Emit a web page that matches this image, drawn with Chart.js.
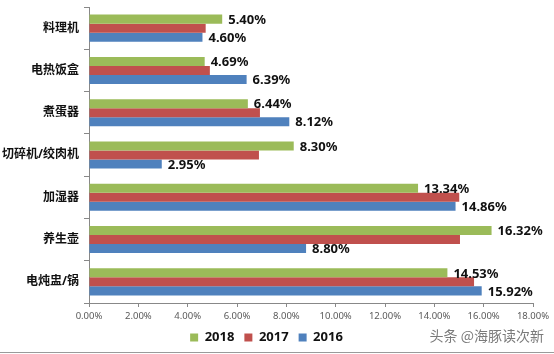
<!DOCTYPE html>
<html>
<head>
<meta charset="utf-8">
<script src="https://cdn.jsdelivr.net/npm/chart.js@4"></script>
<style>
  html, body { margin: 0; padding: 0; background: #fff; }
  #wrap { width: 554px; height: 354px; }
</style>
</head>
<body>
<div id="wrap"><canvas id="myChart" width="554" height="354"></canvas></div>
<script>
'use strict';

// categories and series (percent)
const categories = ['料理机', '电热饭盒', '煮蛋器', '切碎机/绞肉机', '加湿器', '养生壶', '电炖盅/锅'];
const years = ['2018', '2017', '2016'];
const values2018 = [5.40, 4.69, 6.44, 8.30, 13.34, 16.32, 14.53];
const values2017 = [4.73, 4.90, 6.93, 6.89, 15.01, 15.04, 15.61];
const values2016 = [4.60, 6.39, 8.12, 2.95, 14.86, 8.80, 15.92];
const xMax = 18;
const xStep = 2;
const labelledSeries = [0, 2]; // only 2018 and 2016 carry value labels

const colors = ['#9BBB59', '#C0504D', '#4F81BD'];
const fontStack = '"Noto Sans", "Noto Sans CJK SC", sans-serif';

// value labels at bar ends
const valueLabels = {
  id: 'valueLabels',
  afterDatasetsDraw(chart) {
    const c = chart.ctx;
    c.save();
    c.font = 'bold 13px ' + fontStack;
    c.fillStyle = '#111';
    c.textAlign = 'left';
    c.textBaseline = 'middle';
    labelledSeries.forEach(i => {
      const meta = chart.getDatasetMeta(i);
      meta.data.forEach((bar, j) => {
        const v = chart.data.datasets[i].data[j];
        c.fillText(v.toFixed(2) + '%', bar.x + 6, bar.y + 1);
      });
    });
    c.restore();
  }
};

// watermark + bottom frame line
const extras = {
  id: 'extras',
  afterDraw(chart) {
    const c = chart.ctx;
    c.save();
    c.font = '14px "Noto Sans CJK SC", sans-serif';
    c.fillStyle = '#7a7a7a';
    c.textAlign = 'right';
    c.textBaseline = 'middle';
    c.fillText('头条 @海豚读次新', 544, 336);
    c.strokeStyle = '#9a9a9a';
    c.lineWidth = 1;
    c.beginPath();
    c.moveTo(0, 352.5);
    c.lineTo(554, 352.5);
    c.stroke();
    c.restore();
  }
};

const ctx = document.getElementById('myChart').getContext('2d');

new Chart(ctx, {
  type: 'bar',
  data: {
    labels: categories,
    datasets: [
      { label: years[0], data: values2018, backgroundColor: colors[0] },
      { label: years[1], data: values2017, backgroundColor: colors[1] },
      { label: years[2], data: values2016, backgroundColor: colors[2] }
    ]
  },
  options: {
    indexAxis: 'y',
    responsive: false,
    animation: false,
    categoryPercentage: 0.64,
    barPercentage: 1,
    layout: { padding: { left: 0, right: 21, top: 7, bottom: 0 } },
    scales: {
      x: {
        min: 0,
        max: xMax,
        ticks: {
          stepSize: xStep,
          color: '#595959',
          font: { family: fontStack, size: 9.5 },
          padding: 4,
          callback: v => v.toFixed(2) + '%'
        },
        grid: { drawOnChartArea: false, tickLength: 4, color: '#888' },
        border: { color: '#888' },
        afterFit: s => { s.height = 18; }
      },
      y: {
        ticks: {
          color: '#111',
          font: { family: fontStack, size: 12, weight: 'bold' },
          padding: 5
        },
        grid: { drawOnChartArea: false, tickLength: 5, color: '#888', offset: true },
        border: { color: '#888' },
        afterFit: s => { s.width = 89; s.paddingTop = 0; s.paddingBottom = 0; }
      }
    },
    plugins: {
      legend: {
        position: 'bottom',
        labels: {
          boxWidth: 8,
          boxHeight: 8,
          padding: 10,
          color: '#111',
          font: { family: fontStack, size: 13, weight: 'bold' }
        }
      },
      tooltip: { enabled: false }
    }
  },
  plugins: [valueLabels, extras]
});
</script>
</body>
</html>
